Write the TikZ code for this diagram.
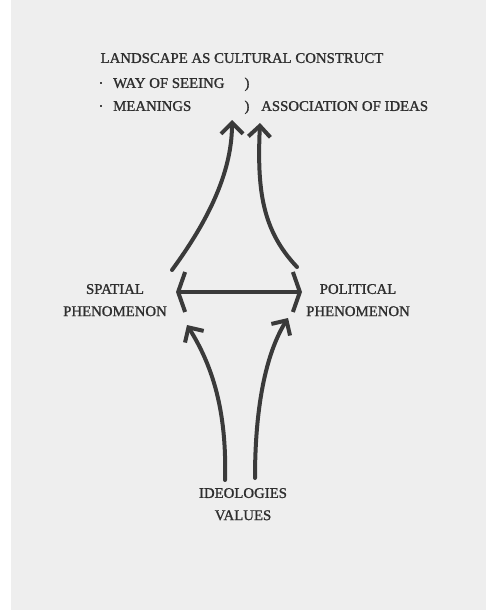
\documentclass[tikz,border=0pt]{standalone}
\usepackage{fontspec}
\setmainfont{Liberation Serif}
\newfontfamily\inkfont{Liberation Serif}[FakeBold=1.2]
\usetikzlibrary{arrows.meta,positioning}
\definecolor{paper}{HTML}{EEEEEE}
\definecolor{ink}{HTML}{3A3A3A}
\definecolor{print}{HTML}{2E2E2E}
\newcommand{\penw}{4pt}
\newcommand{\txtsize}{\inkfont\fontsize{14.8}{22}\selectfont}

\begin{document}
\begin{tikzpicture}[x=1pt,y=-1pt]
            \tikzset{phrase/.style={inner sep=0pt, text=print, font=\txtsize, text height=9.8pt, text depth=0pt},
                     pen/.style={draw=ink, line width=\penw, line cap=round, line join=round},
                     upbarb/.style={-{Straight Barb[length=11pt,width=22pt]}},
                     sidebarb/.style={{Straight Barb[length=7pt,width=40pt]}-{Straight Barb[length=7pt,width=40pt]}}}
            \useasboundingbox (0,0) rectangle (486,610);
            \fill[paper] (0,0) rectangle (486,610);
            \fill[white] (0,0) rectangle (11,610);
            \node[phrase] (construct) at (242,58) {LANDSCAPE AS CULTURAL CONSTRUCT};
            \node[phrase, anchor=west] (seeing) at (113,83) {WAY OF SEEING};
            \node[phrase, anchor=west] (meanings) at (113,106) {MEANINGS};
            \node[phrase] (dota) at (101,83) {·};
            \node[phrase] (dotb) at (101,106) {·};
            \node[phrase] (parena) at (247,83) {)};
            \node[phrase] (parenb) at (247,106) {)};
            \node[phrase, anchor=west] (ideas) at (261,106) {ASSOCIATION OF IDEAS};
            \node[phrase] (spatial) at (115,289) {SPATIAL};
            \node[phrase, below=12pt of spatial] (spatialb) {PHENOMENON};
            \node[phrase] (political) at (358,289) {POLITICAL};
            \node[phrase, below=12pt of political] (politicalb) {PHENOMENON};
            \node[phrase] (ideologies) at (243,493) {IDEOLOGIES};
            \node[phrase, below=12pt of ideologies] (values) {VALUES};
            \coordinate (spatialTop) at (172,270);
            \coordinate (constructL) at (232,120);
            \coordinate (politicalTop) at (297,267);
            \coordinate (constructR) at (260,123);
            \coordinate (spatialEnd) at (176,292);
            \coordinate (politicalEnd) at (302,292);
            \coordinate (ideologiesL) at (225,480);
            \coordinate (spatialLow) at (187,325);
            \coordinate (ideologiesR) at (255,478);
            \coordinate (politicalLow) at (288,318);
            \draw[pen, upbarb] (spatialTop) .. controls (205,225) and (232,175) .. (constructL);
            \draw[pen, upbarb] (politicalTop) .. controls (262,230) and (257,190) .. (constructR);
            \draw[pen, sidebarb] (spatialEnd) -- (politicalEnd);
            \draw[pen, upbarb] (ideologiesL) .. controls (227,410) and (212,365) .. (spatialLow);
            \draw[pen, upbarb] (ideologiesR) .. controls (255,410) and (265,355) .. (politicalLow);
        \end{tikzpicture}
\end{document}
